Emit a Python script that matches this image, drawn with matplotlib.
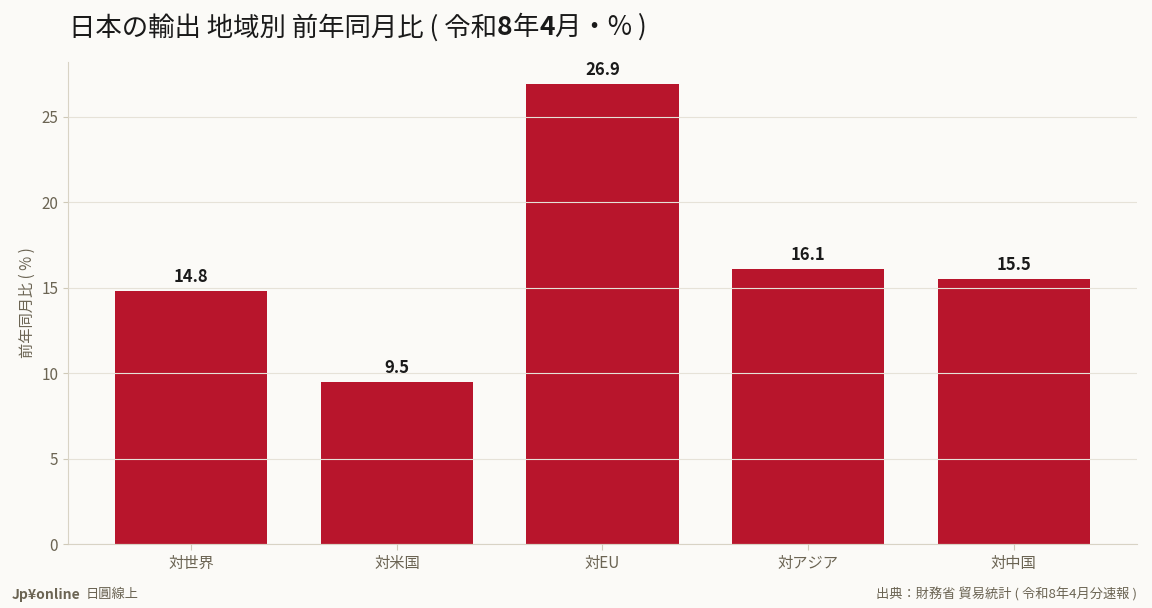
import matplotlib
matplotlib.use("Agg")
import matplotlib.pyplot as plt

categories = ["対世界", "対米国", "対EU", "対アジア", "対中国"]
values = [14.8, 9.5, 26.9, 16.1, 15.5]

plt.rcParams['font.family'] = ['Noto Sans CJK JP', 'DejaVu Sans']
bg = "#fbfaf7"
red = "#b8152c"
tick_c = "#6b6453"

fig = plt.figure(figsize=(11.52, 6.08), dpi=100, facecolor=bg)
ax = fig.add_axes([0.059, 0.105, 0.928, 0.793], facecolor=bg)
ax.bar(categories, values, width=0.74, color=red, zorder=2)
ax.grid(axis="y", color="#e6e2d8", linewidth=0.8, zorder=3)
ax.set_axisbelow(False)
for i, v in enumerate(values):
    ax.text(i, v + 0.3, f"{v}", ha="center", va="bottom", fontsize=12,
            fontweight="bold", color="#1a1a1a", zorder=4)
ax.set_ylim(0, 28.2)
ax.set_xlim(-0.6, 4.6)
ax.set_yticks([0, 5, 10, 15, 20, 25])
ax.tick_params(colors=tick_c, labelsize=11)
ax.tick_params(axis="x", length=4, color="#cfc9b8")
ax.tick_params(axis="y", color="#cfc9b8")
for s in ["top", "right"]:
    ax.spines[s].set_visible(False)
for s in ["left", "bottom"]:
    ax.spines[s].set_color("#d8d3c5")
ax.set_ylabel("前年同月比 ( % )", color=tick_c, fontsize=11)

fig.text(0.06, 0.955, "日本の輸出 地域別 前年同月比 ( 令和", fontsize=19, color="#1a1a1a", va="center")
fig.text(0.06, 0.955, " ", fontsize=19)
title = fig.text(0.06, 0.955, "", fontsize=19)
# compose title with bold digits
r = fig.canvas.get_renderer()
parts = [("日本の輸出 地域別 前年同月比 ( 令和", "normal"), ("8", "bold"), ("年", "normal"),
         ("4", "bold"), ("月・% )", "normal")]
fig.texts.clear()
x = 0.06
for t, w in parts:
    tx = fig.text(x, 0.955, t, fontsize=19, fontweight=w, color="#1a1a1a", va="center")
    bb = tx.get_window_extent(renderer=r)
    x += bb.width / fig.bbox.width

fig.text(0.01, 0.022, "Jp¥online", fontsize=10, fontweight="bold", color=tick_c, va="center")
fig.text(0.074, 0.022, "日圓線上", fontsize=9.5, color=tick_c, va="center")
fig.text(0.987, 0.022, "出典：財務省 貿易統計 ( 令和8年4月分速報 )", fontsize=9.5,
         color=tick_c, ha="right", va="center")

fig.savefig("out.png", dpi=100, facecolor=bg)
